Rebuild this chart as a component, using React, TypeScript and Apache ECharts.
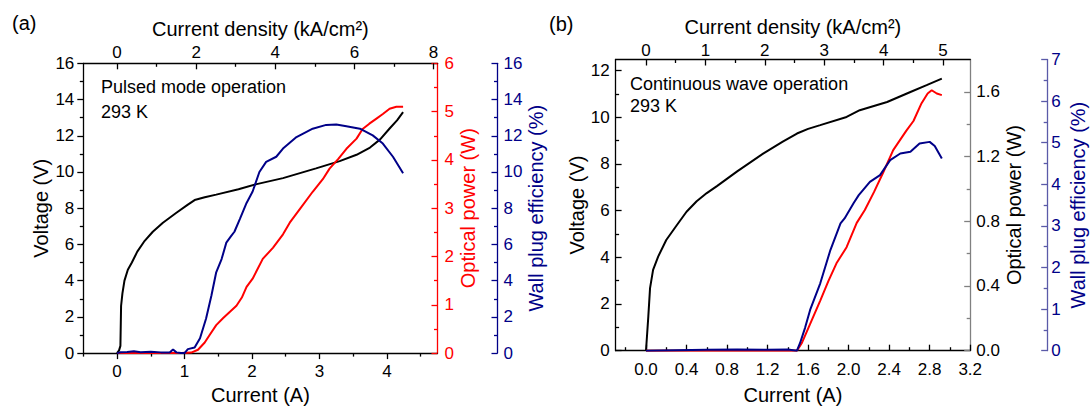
import { useEffect, useRef } from 'react';
import * as echarts from 'echarts';

type Pt = [number, number];

const FONT = '"Liberation Sans", Arial, Helvetica, sans-serif';
const BLACK = '#000000';
const RED = '#ff0000';
const NAVY = '#000088';
const NAVY_LIGHT = '#5a5aa8';
const GRAY = '#808080';

// ---------- Panel (a): pulsed mode, 293 K ----------
const pulsedVoltage: Pt[] = [
  [0, 0], [0.03, 0.15], [0.05, 0.4], [0.06, 2.6], [0.08, 3.3], [0.11, 4.0], [0.16, 4.6],
  [0.22, 5.0], [0.3, 5.6], [0.4, 6.15], [0.53, 6.7], [0.68, 7.2], [0.88, 7.75], [1.05, 8.2],
  [1.15, 8.45], [1.3, 8.6], [1.47, 8.75], [1.8, 9.05], [2.07, 9.33], [2.46, 9.66],
  [2.95, 10.2], [3.3, 10.6], [3.55, 10.95], [3.75, 11.35], [3.9, 11.8], [4.04, 12.4],
  [4.15, 12.85], [4.24, 13.3],
];
const pulsedPower: Pt[] = [
  [0, 0], [0.95, 0], [1.1, 0.01], [1.2, 0.07], [1.3, 0.22], [1.37, 0.37], [1.47, 0.58],
  [1.57, 0.72], [1.67, 0.85], [1.77, 0.98], [1.85, 1.15], [1.92, 1.37], [2.01, 1.54],
  [2.16, 1.95], [2.31, 2.18], [2.46, 2.46], [2.56, 2.7], [2.72, 3.0], [2.9, 3.34],
  [3.05, 3.6], [3.15, 3.82], [3.28, 4.02], [3.4, 4.23], [3.55, 4.44], [3.64, 4.64],
  [3.74, 4.75], [3.84, 4.85], [3.94, 4.95], [4.04, 5.06], [4.14, 5.1], [4.24, 5.1],
];
const pulsedWPE: Pt[] = [
  [0, 0], [0.05, 0.05], [0.15, 0.06], [0.25, 0.1], [0.35, 0.05], [0.5, 0.07], [0.65, 0.04],
  [0.78, 0.03], [0.83, 0.2], [0.88, 0.04], [0.95, 0], [1.0, 0], [1.05, 0.22], [1.15, 0.31],
  [1.23, 0.82], [1.32, 1.91], [1.4, 3.19], [1.47, 4.46], [1.55, 5.19], [1.62, 6.1],
  [1.69, 6.46], [1.74, 6.7], [1.82, 7.4], [1.92, 8.29], [2.01, 8.92], [2.11, 10.0],
  [2.21, 10.56], [2.36, 10.84], [2.46, 11.29], [2.66, 11.93], [2.9, 12.39], [3.1, 12.6],
  [3.25, 12.62], [3.4, 12.53], [3.6, 12.39], [3.79, 12.02], [3.94, 11.57], [4.09, 10.84],
  [4.24, 9.93],
];
const pulsedCurrentTicks = [0, 1, 2, 3, 4];
const pulsedCurrentMinor = [-0.5, 0.5, 1.5, 2.5, 3.5, 4.5];
const pulsedDensityTicks = [0, 2, 4, 6, 8];
const pulsedDensityMinor = [1, 3, 5, 7];
const pulsedVoltageTicks = [0, 2, 4, 6, 8, 10, 12, 14, 16];
const pulsedVoltageMinor = [1, 3, 5, 7, 9, 11, 13, 15];
const pulsedPowerTicks = [0, 1, 2, 3, 4, 5, 6];
const pulsedPowerMinor = [0.5, 1.5, 2.5, 3.5, 4.5, 5.5];
const pulsedWPETicks = [0, 2, 4, 6, 8, 10, 12, 14, 16];
const pulsedWPEMinor = [1, 3, 5, 7, 9, 11, 13, 15];

// ---------- Panel (b): continuous wave, 293 K ----------
const cwVoltage: Pt[] = [
  [0, 0], [0.023, 1.47], [0.04, 2.68], [0.07, 3.46], [0.12, 4.03], [0.2, 4.74], [0.3, 5.35],
  [0.4, 5.95], [0.5, 6.4], [0.6, 6.75], [0.7, 7.05], [0.9, 7.68], [1.16, 8.45], [1.35, 8.95],
  [1.49, 9.3], [1.6, 9.5], [1.72, 9.66], [1.98, 10.01], [2.11, 10.3], [2.38, 10.65],
  [2.61, 11.08], [2.77, 11.37], [2.92, 11.65],
];
const cwPower: Pt[] = [
  [0, 0], [1.49, 0], [1.54, 0.05], [1.63, 0.18], [1.72, 0.31], [1.8, 0.43], [1.88, 0.54],
  [1.98, 0.64], [2.08, 0.79], [2.16, 0.87], [2.25, 0.98], [2.34, 1.1], [2.44, 1.24],
  [2.57, 1.36], [2.64, 1.42], [2.72, 1.53], [2.78, 1.59], [2.82, 1.61], [2.87, 1.59],
  [2.92, 1.58],
];
const cwWPE: Pt[] = [
  [0, 0], [0.3, 0.01], [0.6, 0.02], [0.9, 0.03], [1.2, 0.02], [1.4, 0.03], [1.49, 0],
  [1.52, 0.18], [1.57, 0.55], [1.62, 0.98], [1.72, 1.62], [1.82, 2.42], [1.92, 3.06],
  [1.96, 3.18], [2.05, 3.55], [2.1, 3.74], [2.21, 4.06], [2.31, 4.22], [2.41, 4.58],
  [2.51, 4.74], [2.61, 4.78], [2.7, 4.98], [2.8, 5.02], [2.85, 4.92], [2.92, 4.62],
];
const cwCurrentTicks = [0, 0.4, 0.8, 1.2, 1.6, 2.0, 2.4, 2.8, 3.2];
const cwCurrentMinor = [-0.2, 0.2, 0.6, 1.0, 1.4, 1.8, 2.2, 2.6, 3.0];
const cwDensityTicks = [0, 1, 2, 3, 4, 5];
const cwDensityMinor = [0.5, 1.5, 2.5, 3.5, 4.5];
const cwVoltageTicks = [0, 2, 4, 6, 8, 10, 12];
const cwVoltageMinor = [1, 3, 5, 7, 9, 11];
const cwPowerTicks = [0, 0.4, 0.8, 1.2, 1.6];
const cwPowerMinor = [0.2, 0.6, 1.0, 1.4];
const cwWPETicks = [0, 1, 2, 3, 4, 5, 6, 7];
const cwWPEMinor = [0.5, 1.5, 2.5, 3.5, 4.5, 5.5, 6.5];

// conversion current (A) -> current density (kA/cm^2)
const DENSITY_PER_AMP = 1.705;

interface AxisOpts {
  gridIndex: number;
  position: string;
  offset?: number;
  min: number;
  max: number;
  labels: number[];
  minor: number[];
  inside: boolean;
  color: string;
  labelColor: string;
  margin: number;
  fmt?: (v: number) => string;
  name?: string;
  nameGap?: number;
  nameRotate?: number;
  nameColor?: string;
}

function axisPair(o: AxisOpts): any[] {
  const common = {
    type: 'value',
    gridIndex: o.gridIndex,
    position: o.position,
    offset: o.offset ?? 0,
    min: o.min,
    max: o.max,
    splitLine: { show: false },
    splitArea: { show: false },
  };
  const major = {
    ...common,
    name: o.name ?? '',
    nameLocation: 'middle',
    nameGap: o.nameGap ?? 20,
    nameRotate: o.nameRotate,
    nameTextStyle: { fontFamily: FONT, fontSize: 20, color: o.nameColor ?? o.labelColor },
    axisLine: { show: true, onZero: false, lineStyle: { color: o.color, width: 1.3 } },
    axisTick: {
      show: true, inside: o.inside, length: 6, customValues: o.labels,
      lineStyle: { color: o.color, width: 1.3 },
    },
    axisLabel: {
      show: true, customValues: o.labels, margin: o.margin, fontFamily: FONT, fontSize: 17,
      color: o.labelColor, formatter: o.fmt ?? ((v: number) => String(v)),
    },
  };
  const minor = {
    ...common,
    axisLine: { show: false, onZero: false },
    axisTick: {
      show: true, inside: o.inside, length: 3.5, customValues: o.minor,
      lineStyle: { color: o.color, width: 1.3 },
    },
    axisLabel: { show: false },
  };
  return [major, minor];
}

const fix1 = (v: number) => v.toFixed(1);

function buildOption(): any {
  const aMin = -0.5, aMax = 4.75;
  const bMin = -0.3, bMax = 3.2;

  const xAxis = [
    // panel a bottom (0,1), top (2,3)
    ...axisPair({
      gridIndex: 0, position: 'bottom', min: aMin, max: aMax, labels: pulsedCurrentTicks,
      minor: pulsedCurrentMinor, inside: false, color: BLACK, labelColor: BLACK, margin: 10,
      name: 'Current (A)', nameGap: 30,
    }),
    ...axisPair({
      gridIndex: 0, position: 'top', min: aMin * DENSITY_PER_AMP, max: aMax * DENSITY_PER_AMP,
      labels: pulsedDensityTicks, minor: pulsedDensityMinor, inside: true, color: BLACK,
      labelColor: BLACK, margin: 2, name: 'Current density (kA/cm²)', nameGap: 23,
    }),
    // panel b bottom (4,5), top (6,7)
    ...axisPair({
      gridIndex: 1, position: 'bottom', min: bMin, max: bMax, labels: cwCurrentTicks,
      minor: cwCurrentMinor, inside: true, color: BLACK, labelColor: BLACK, margin: 10,
      fmt: fix1, name: 'Current (A)', nameGap: 34,
    }),
    ...axisPair({
      gridIndex: 1, position: 'top', min: bMin * DENSITY_PER_AMP, max: bMax * DENSITY_PER_AMP,
      labels: cwDensityTicks, minor: cwDensityMinor, inside: true, color: BLACK,
      labelColor: BLACK, margin: 1, name: 'Current density (kA/cm²)', nameGap: 19,
    }),
  ];

  const yAxis = [
    // panel a: left (0,1), red (2,3), blue (4,5)
    ...axisPair({
      gridIndex: 0, position: 'left', min: 0, max: 16, labels: pulsedVoltageTicks,
      minor: pulsedVoltageMinor, inside: false, color: BLACK, labelColor: BLACK, margin: 9,
      name: 'Voltage (V)', nameGap: 31, nameRotate: 90,
    }),
    ...axisPair({
      gridIndex: 0, position: 'right', min: 0, max: 6, labels: pulsedPowerTicks,
      minor: pulsedPowerMinor, inside: true, color: RED, labelColor: RED, margin: 7,
      name: 'Optical power (W)', nameGap: 20, nameRotate: 90,
    }),
    ...axisPair({
      gridIndex: 0, position: 'right', offset: 60, min: 0, max: 16, labels: pulsedWPETicks,
      minor: pulsedWPEMinor, inside: true, color: NAVY, labelColor: NAVY, margin: 6,
      name: 'Wall plug efficiency (%)', nameGap: 28, nameRotate: 90,
    }),
    // panel b: left (6,7), gray (8,9), blue (10,11)
    ...axisPair({
      gridIndex: 1, position: 'left', min: 0, max: 12.47, labels: cwVoltageTicks,
      minor: cwVoltageMinor, inside: true, color: BLACK, labelColor: BLACK, margin: 6,
      name: 'Voltage (V)', nameGap: 24, nameRotate: 90,
    }),
    ...axisPair({
      gridIndex: 1, position: 'right', min: 0, max: 1.8, labels: cwPowerTicks,
      minor: cwPowerMinor, inside: true, color: GRAY, labelColor: BLACK, margin: 6,
      fmt: fix1, name: 'Optical power (W)', nameGap: 32, nameRotate: 90,
    }),
    ...axisPair({
      gridIndex: 1, position: 'right', offset: 77, min: 0, max: 7, labels: cwWPETicks,
      minor: cwWPEMinor, inside: true, color: NAVY_LIGHT, labelColor: NAVY, margin: 4,
      name: 'Wall plug efficiency (%)', nameGap: 21, nameRotate: 90, nameColor: NAVY,
    }),
  ];

  const line = (data: Pt[], color: string, x: number, y: number, name: string) => ({
    type: 'line', name, data, xAxisIndex: x, yAxisIndex: y, showSymbol: false, symbol: 'none',
    lineStyle: { color, width: 2 }, itemStyle: { color }, silent: true,
  });

  return {
    animation: false,
    backgroundColor: '#ffffff',
    textStyle: { fontFamily: FONT },
    grid: [
      { left: 83.3, top: 63.3, width: 354.2, height: 291.7, containLabel: false },
      { left: 615.6, top: 59.5, width: 354.6, height: 291.2, containLabel: false },
    ],
    xAxis,
    yAxis,
    series: [
      line(pulsedVoltage, BLACK, 0, 0, 'Voltage (pulsed)'),
      line(pulsedPower, RED, 0, 2, 'Optical power (pulsed)'),
      line(pulsedWPE, NAVY, 0, 4, 'Wall plug efficiency (pulsed)'),
      line(cwVoltage, BLACK, 4, 6, 'Voltage (CW)'),
      line(cwPower, RED, 4, 8, 'Optical power (CW)'),
      line(cwWPE, NAVY, 4, 10, 'Wall plug efficiency (CW)'),
    ],
    graphic: [
      { type: 'text', x: 12, y: 23, style: { text: '(a)', fontFamily: FONT, fontSize: 20, fill: BLACK, verticalAlign: 'middle' } },
      { type: 'text', x: 549, y: 24, style: { text: '(b)', fontFamily: FONT, fontSize: 20, fill: BLACK, verticalAlign: 'middle' } },
      { type: 'text', x: 101, y: 87, style: { text: 'Pulsed mode operation', fontFamily: FONT, fontSize: 18, fill: BLACK, verticalAlign: 'middle' } },
      { type: 'text', x: 101, y: 111.5, style: { text: '293 K', fontFamily: FONT, fontSize: 18, fill: BLACK, verticalAlign: 'middle' } },
      { type: 'text', x: 630, y: 84, style: { text: 'Continuous wave operation', fontFamily: FONT, fontSize: 18, fill: BLACK, verticalAlign: 'middle' } },
      { type: 'text', x: 630, y: 106, style: { text: '293 K', fontFamily: FONT, fontSize: 18, fill: BLACK, verticalAlign: 'middle' } },
    ],
  };
}

export default function App() {
  const ref = useRef<HTMLDivElement>(null);
  useEffect(() => {
    if (!ref.current) return;
    const chart = echarts.init(ref.current, undefined, { renderer: 'svg' });
    chart.setOption(buildOption());
    return () => chart.dispose();
  }, []);
  return (
    <div
      ref={ref}
      style={{ position: 'absolute', left: 0, top: 0, width: 1092, height: 410, background: '#fff' }}
    />
  );
}
